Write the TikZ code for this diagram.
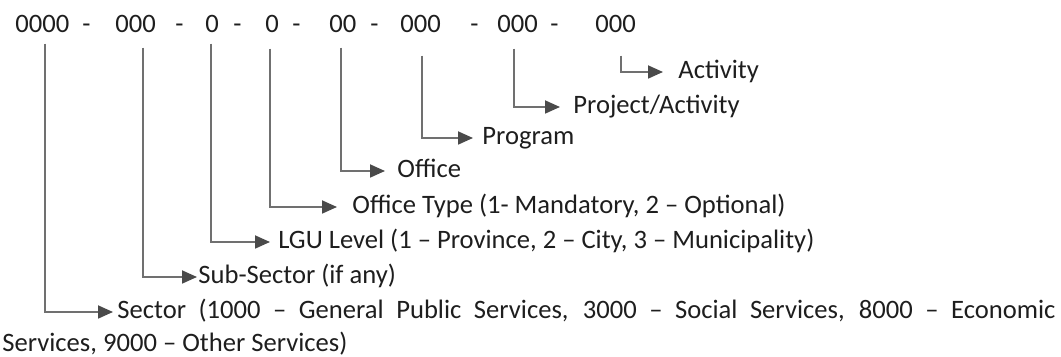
\documentclass[tikz,border=0pt]{standalone}
\usepackage{fontspec}
\setmainfont{Carlito}
\usetikzlibrary{arrows.meta}
\definecolor{inkgray}{HTML}{1E1E1E}
\definecolor{linegray}{HTML}{707070}
\definecolor{headgray}{HTML}{4A4A4A}
\begin{document}
\begin{tikzpicture}[x=0.5pt, y=-0.5pt, font=\fontsize{13.3}{16}\selectfont, text=inkgray,
  code/.style={anchor=base west, inner sep=0pt},
  lbl/.style={anchor=west, inner sep=0pt, text height=0.8em, text depth=0.1em},
  link/.style={draw=linegray, line width=0.9pt, -{Triangle[length=7.5pt, width=6.5pt, color=headgray]}}]
\useasboundingbox (0,0) rectangle (1061,357);
% code row
\node[code] (sec) at (15,33) {0000};
\node[code] (d1) at (82,33) {-};
\node[code] (sub) at (115,33) {000};
\node[code] (d2) at (175,33) {-};
\node[code] (lgu) at (205,33) {0};
\node[code] (d3) at (233,33) {-};
\node[code] (typ) at (265,33) {0};
\node[code] (d4) at (292,33) {-};
\node[code] (off) at (329,33) {00};
\node[code] (d5) at (370,33) {-};
\node[code] (prg) at (400,33) {000};
\node[code] (d6) at (470,33) {-};
\node[code] (prj) at (497,33) {000};
\node[code] (d7) at (550,33) {-};
\node[code] (act) at (595,33) {000};
% labels
\node[lbl] (Lact) at (678,72) {Activity};
\node[lbl] (Lprj) at (573,107) {Project/Activity};
\node[lbl] (Lprg) at (482,138) {Program};
\node[lbl] (Loff) at (397,171) {Office};
\node[lbl] (Ltyp) at (352,207) {Office Type (1- Mandatory, 2 – Optional)};
\node[lbl] (Llgu) at (278,242) {LGU Level (1 – Province, 2 – City, 3 – Municipality)};
\node[lbl] (Lsub) at (198,277) {Sub-Sector (if any)};
\node[lbl] (Lsec) at (117,312) {\makebox[469pt][s]{Sector (1000 – General Public Services, 3000 – Social Services, 8000 – Economic}};
\node[lbl] (Lsec2) at (2,345) {Services, 9000 – Other Services)};
% connectors
\draw[link] ([shift={(5,22)}]act.south) |- ([xshift=-7.5pt]Lact.west);
\draw[link] ([shift={(-4,15)}]prj.south) |- ([xshift=-6.5pt]Lprj.west);
\draw[link] ([shift={(1,22)}]prg.south) |- ([xshift=-4.5pt]Lprg.west);
\draw[link] ([shift={(-2,14)}]off.south) |- ([xshift=-6pt]Loff.west);
\draw[link] ([shift={(-2,15)}]typ.south) |- ([xshift=-7.5pt]Ltyp.west);
\draw[link] ([shift={(-1,10)}]lgu.south) |- ([xshift=-4pt]Llgu.west);
\draw[link] ([shift={(7,14)}]sub.south) |- ([xshift=-0.5pt]Lsub.west);
\draw[link] ([shift={(2.5,10)}]sec.south) |- ([xshift=-2pt]Lsec.west);
\end{tikzpicture}
\end{document}
